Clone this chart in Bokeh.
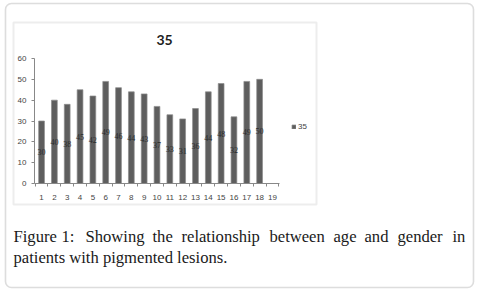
from bokeh.plotting import figure
from bokeh.models import (ColumnDataSource, LabelSet, Label, BoxAnnotation, FixedTicker,
                          Legend, LegendItem, Range1d)
from bokeh.embed import file_html
from bokeh.resources import INLINE

categories = list(range(1, 19))
values = [30, 40, 38, 45, 42, 49, 46, 44, 43, 37, 33, 31, 36, 44, 48, 32, 49, 50]
x_ticks = list(range(1, 20))
y_ticks = [0, 10, 20, 30, 40, 50, 60]
series_name = "35"
chart_title = "35"
caption_line1 = ["Figure", "1:", "Showing", "the", "relationship", "between", "age", "and", "gender", "in"]
caption_line2 = "patients with pigmented lesions."

W, H = 479, 289
PL, PR, PT, PB = 34, 279, 58, 183  # chart plot-area edges in canvas px
X0, X1, Y0, Y1 = 0.45, 19.55, 0, 60
kx = (PR - PL) / (X1 - X0)
ky = (PB - PT) / (Y1 - Y0)

src = ColumnDataSource(dict(x=categories, top=values, half=[v / 2 for v in values],
                            lbl=[str(v) for v in values]))

p = figure(width=W, height=H, output_backend="svg", toolbar_location=None,
           x_range=Range1d(X0 - PL / kx, X1 + (W - PR) / kx),
           y_range=Range1d(Y0 - (H - PB) / ky, Y1 + PT / ky),
           min_border=0, min_border_left=0, min_border_right=0, min_border_top=0, min_border_bottom=0,
           background_fill_color="white", border_fill_color="white")
p.outline_line_color = None
p.grid.visible = False

bars = p.vbar(x="x", top="top", width=0.45, source=src, fill_color="#5e5e5e", line_color="#8c8c8c", line_width=0.7)

labels = LabelSet(x="x", y="half", text="lbl", source=src, text_align="center", text_baseline="middle",
                  text_font_size="8px", text_font="Liberation Sans", text_color="#2a2a2a")
p.add_layout(labels)

xa = p.xaxis[0]
xa.fixed_location = Y0
xa.bounds = (X0, X1)
xa.ticker = FixedTicker(ticks=x_ticks, minor_ticks=[t - 0.5 for t in x_ticks] + [19.5])
xa.major_tick_line_color = None
xa.minor_tick_line_color = "#888888"
xa.minor_tick_out = 3
xa.minor_tick_in = 0
xa.axis_line_color = "#888888"
xa.major_label_text_font_size = "8px"
xa.major_label_text_font = "Liberation Sans"
xa.major_label_text_color = "#444444"
xa.major_label_standoff = 5

ya = p.yaxis[0]
ya.fixed_location = X0
ya.bounds = (Y0, Y1)
ya.ticker = FixedTicker(ticks=y_ticks)
ya.minor_tick_line_color = None
ya.major_tick_line_color = "#888888"
ya.major_tick_out = 3
ya.major_tick_in = 0
ya.axis_line_color = "#888888"
ya.major_label_text_font_size = "8px"
ya.major_label_text_font = "Liberation Sans"
ya.major_label_text_color = "#444444"
ya.major_label_standoff = 5

def sx(cx):
    return cx

def sy(cy):
    return H - cy

# outer rounded border and chart box
p.add_layout(BoxAnnotation(left=sx(5), right=sx(473), top=sy(3), bottom=sy(287),
                           left_units="screen", right_units="screen", top_units="screen", bottom_units="screen",
                           fill_alpha=0, line_color="#8f8f8f", line_width=1.6, border_radius=6, level="underlay"))
p.add_layout(BoxAnnotation(left=sx(13), right=sx(316), top=sy(22), bottom=sy(204),
                           left_units="screen", right_units="screen", top_units="screen", bottom_units="screen",
                           fill_alpha=0, line_color="#c4c4c4", line_width=2, level="underlay"))

p.add_layout(Label(x=sx(164), y=sy(39), x_units="screen", y_units="screen", text=chart_title,
                   text_font="Lato", text_font_style="bold", text_font_size="14px", text_color="#1e1e1e",
                   text_align="center", text_baseline="middle"))

legend = Legend(items=[LegendItem(label=series_name, renderers=[bars])],
                location=(sx(291), sy(131)), glyph_width=5, glyph_height=5, label_text_font_size="8px",
                label_text_font="Liberation Sans", label_text_color="#444444", padding=0, margin=0,
                border_line_color=None, background_fill_alpha=0, label_standoff=2, label_height=9)
p.add_layout(legend)

# caption, justified line 1 (word left positions in canvas px)
word_x = [13, 61, 85, 152, 181, 269, 333, 364, 397, 452]
for w, x in zip(caption_line1, word_x):
    p.add_layout(Label(x=sx(x), y=sy(236), x_units="screen", y_units="screen", text=w,
                       text_font="Liberation Serif", text_font_size="16.6px", text_color="#1a1a1a",
                       text_baseline="alphabetic"))
p.add_layout(Label(x=sx(13), y=sy(257), x_units="screen", y_units="screen", text=caption_line2,
                   text_font="Liberation Serif", text_font_size="16.6px", text_color="#1a1a1a",
                   text_baseline="alphabetic"))

open("out.html", "w").write(file_html(p, INLINE))
